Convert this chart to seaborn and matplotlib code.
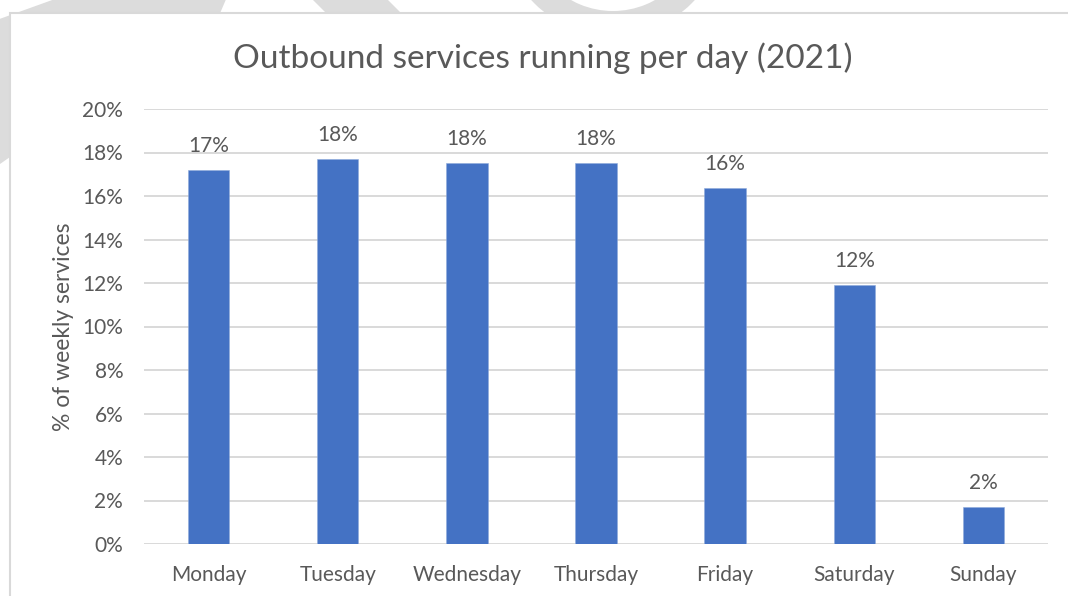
import numpy as np
import pandas as pd
import matplotlib
matplotlib.use("Agg")
import matplotlib.pyplot as plt
from matplotlib.patches import Polygon, Wedge, Rectangle
from matplotlib.transforms import Affine2D
import seaborn as sns

# Share of weekly outbound services by day (in %)
days = ["Monday", "Tuesday", "Wednesday", "Thursday", "Friday", "Saturday", "Sunday"]
share_pct = [17.2, 17.7, 17.5, 17.5, 16.35, 11.9, 1.7]
y_ticks = [0, 2, 4, 6, 8, 10, 12, 14, 16, 18, 20]

title = "Outbound services running per day (2021)"
y_label = "% of weekly services"

BAR = "#4472C4"
TEXT = "#595959"
GRID = "#d9d9d9"
MARK = "#dcdcdc"

sns.set_theme(style="white")
plt.rcParams["font.family"] = ["Lato", "DejaVu Sans"]

df = pd.DataFrame({"day": days, "share": share_pct})

fig = plt.figure(figsize=(10.68, 5.96), dpi=100)
fig.patch.set_facecolor("white")

# pixel coords (origin top-left) -> display
pix = Affine2D().scale(1 / 100, -1 / 100).translate(0, 5.96) + fig.dpi_scale_trans

# faint watermark shapes peeking out behind the chart box
fig.add_artist(Polygon([(-20, 26), (80, -10), (230, -10), (200, 60), (40, 100),
                        (20, 150), (-20, 178)], closed=True, facecolor=MARK,
                       edgecolor="none", transform=pix, zorder=-3))
fig.add_artist(Polygon([(303, -10), (378, -10), (420, 32), (345, 32)], closed=True,
                       facecolor=MARK, edgecolor="none", transform=pix, zorder=-3))
fig.add_artist(Wedge((613, -75), 111, 0, 360, width=25, facecolor=MARK,
                     edgecolor="none", transform=pix, zorder=-3))

# white chart area with light border
fig.add_artist(Rectangle((9.5, 12.5), 1080, 600, facecolor="white", edgecolor=GRID,
                         linewidth=1.5, transform=pix, zorder=-2))

ax = fig.add_axes([144 / 1068, 1 - 544 / 596, (1048 - 144) / 1068, (544 - 109) / 596])
ax.set_facecolor("none")
ax.set_zorder(1)

sns.barplot(data=df, x="day", y="share", color=BAR, width=0.32, saturation=1,
            edgecolor="#8eaadb", linewidth=0.4, ax=ax, zorder=3)

ax.set_ylim(0, 20)
ax.set_xlim(-0.5, len(days) - 0.5)
ax.set_yticks(y_ticks)
ax.set_yticklabels([f"{t}%" for t in y_ticks])
ax.yaxis.grid(True, color=GRID, linewidth=1.4)
ax.set_axisbelow(True)
for s in ax.spines.values():
    s.set_visible(False)
ax.tick_params(axis="y", length=0, pad=15, labelsize=15, labelcolor=TEXT)
ax.tick_params(axis="x", length=0, pad=15, labelsize=15, labelcolor=TEXT)

ax.set_xlabel("")
ax.set_ylabel(y_label, fontsize=16.5, color=TEXT, labelpad=6)

for i, v in enumerate(share_pct):
    ax.annotate(f"{v:.0f}%", (i, v), xytext=(0, 17.5), textcoords="offset points",
                ha="center", va="center", fontsize=15, color=TEXT)

fig.text(543 / 1068, 1 - 58 / 596, title, ha="center", va="center",
         fontsize=24, color=TEXT)

fig.savefig("out.png", dpi=100)
